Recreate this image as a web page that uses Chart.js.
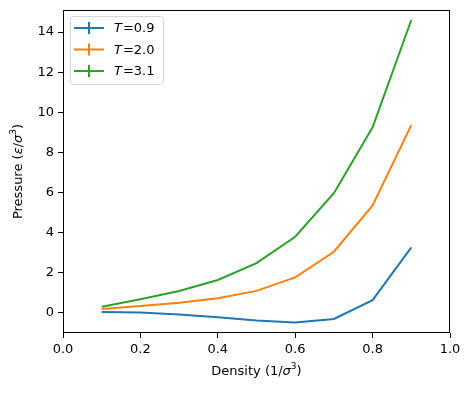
<!DOCTYPE html>
<html>
<head>
<meta charset="utf-8">
<script src="https://cdn.jsdelivr.net/npm/chart.js@4/dist/chart.umd.min.js"></script>
<style>
  html, body { margin: 0; padding: 0; background: #fff; }
  #wrap { width: 471px; height: 394px; }
</style>
</head>
<body>
<div id="wrap"><canvas id="myChart" width="471" height="394"></canvas></div>
<script>
var densities = [0.1, 0.2, 0.3, 0.4, 0.5, 0.6, 0.7, 0.8, 0.9];
var pressureT09 = [0.05, 0.02, -0.08, -0.21, -0.38, -0.48, -0.30, 0.64, 3.27];
var pressureT20 = [0.20, 0.35, 0.51, 0.73, 1.10, 1.77, 3.05, 5.36, 9.36];
var pressureT31 = [0.31, 0.68, 1.09, 1.64, 2.48, 3.80, 5.97, 9.25, 14.6];
var seriesNames = ["0.9", "2.0", "3.1"];
var xTicks = [0, 0.2, 0.4, 0.6, 0.8, 1.0];
var yTicks = [0, 2, 4, 6, 8, 10, 12, 14];

var colors = ["#1f77b4", "#ff7f0e", "#2ca02c"];
var FONT = "'DejaVu Sans', sans-serif";

function toPoints(ys) {
    return densities.map(function (x, i) { return { x: x, y: ys[i] }; });
}

// draws text made of pieces with different styles
function drawParts(ctx, parts, x, y) {
    var total = 0;
    parts.forEach(function (p) {
        ctx.font = p.font;
        total += ctx.measureText(p.text).width;
    });
    var cx = x - total / 2;
    parts.forEach(function (p) {
        ctx.font = p.font;
        ctx.fillText(p.text, cx, y + (p.dy || 0));
        cx += ctx.measureText(p.text).width;
    });
}

function noPad(scale) {
    scale.paddingTop = 0;
    scale.paddingBottom = 0;
    scale.paddingLeft = 0;
    scale.paddingRight = 0;
}

var extrasPlugin = {
    id: "extras",
    afterDraw: function (chart) {
        var ctx = chart.ctx;
        var a = chart.chartArea;
        ctx.save();
        // frame
        ctx.strokeStyle = "#000";
        ctx.lineWidth = 1;
        ctx.strokeRect(Math.round(a.left) + 0.5, Math.round(a.top) + 0.5,
            Math.round(a.right - a.left) - 1, Math.round(a.bottom - a.top) - 1);

        // axis titles
        ctx.fillStyle = "#000";
        ctx.textBaseline = "middle";
        ctx.textAlign = "left";
        var norm = "13px " + FONT, ital = "italic 13px " + FONT, sup = "9px " + FONT;
        drawParts(ctx, [
            { text: "Density (1/", font: norm },
            { text: "σ", font: ital },
            { text: "3", font: sup, dy: -5 },
            { text: ")", font: norm }
        ], (a.left + a.right) / 2, 372);

        ctx.save();
        ctx.translate(19, (a.top + a.bottom) / 2);
        ctx.rotate(-Math.PI / 2);
        drawParts(ctx, [
            { text: "Pressure (", font: norm },
            { text: "ε", font: ital },
            { text: "/", font: norm },
            { text: "σ", font: ital },
            { text: "3", font: sup, dy: -5 },
            { text: ")", font: norm }
        ], 0, 0);
        ctx.restore();

        // legend
        var bx = 70.5, by = 16.5, bw = 93, bh = 68, r = 3;
        ctx.beginPath();
        ctx.moveTo(bx + r, by);
        ctx.arcTo(bx + bw, by, bx + bw, by + bh, r);
        ctx.arcTo(bx + bw, by + bh, bx, by + bh, r);
        ctx.arcTo(bx, by + bh, bx, by, r);
        ctx.arcTo(bx, by, bx + bw, by, r);
        ctx.closePath();
        ctx.fillStyle = "rgba(255,255,255,0.8)";
        ctx.fill();
        ctx.strokeStyle = "#d6d6d6";
        ctx.stroke();

        seriesNames.forEach(function (name, i) {
            var ly = 28 + i * 21.5;
            ctx.strokeStyle = colors[i];
            ctx.lineWidth = 2;
            ctx.beginPath();
            ctx.moveTo(74, ly);
            ctx.lineTo(104, ly);
            ctx.moveTo(89, ly - 6);
            ctx.lineTo(89, ly + 6);
            ctx.stroke();
            ctx.fillStyle = "#000";
            ctx.textAlign = "left";
            ctx.font = ital;
            ctx.fillText("T", 114, ly + 1);
            var w = ctx.measureText("T").width;
            ctx.font = norm;
            ctx.fillText("=" + name, 114 + w + 1, ly + 1);
        });
        ctx.restore();
    }
};

function makeDataset(label, ys, color) {
    return {
        label: label,
        data: toPoints(ys),
        borderColor: color,
        backgroundColor: color,
        borderWidth: 2,
        pointRadius: 0,
        tension: 0,
        fill: false
    };
}

window.onload = function () {
    var ctx = document.getElementById("myChart").getContext("2d");
    new Chart(ctx, {
        type: "line",
        data: {
            datasets: [
                makeDataset("T=0.9", pressureT09, colors[0]),
                makeDataset("T=2.0", pressureT20, colors[1]),
                makeDataset("T=3.1", pressureT31, colors[2])
            ]
        },
        options: {
            responsive: false,
            animation: false,
            layout: { padding: { top: 10, right: 21, left: 0, bottom: 0 } },
            plugins: {
                legend: { display: false },
                tooltip: { enabled: false }
            },
            scales: {
                x: {
                    type: "linear",
                    min: 0,
                    max: 1,
                    afterBuildTicks: function (scale) {
                        scale.ticks = xTicks.map(function (v) { return { value: v }; });
                    },
                    afterFit: function (scale) { scale.height = 61; noPad(scale); },
                    grid: { drawOnChartArea: false, drawTicks: true, tickLength: 5, color: "#000" },
                    border: { display: false },
                    ticks: {
                        color: "#000",
                        padding: 4,
                        font: { family: FONT, size: 13 },
                        maxRotation: 0,
                        callback: function (v) { return v.toFixed(1); }
                    }
                },
                y: {
                    type: "linear",
                    min: -1,
                    max: 15.1,
                    afterBuildTicks: function (scale) {
                        scale.ticks = yTicks.map(function (v) { return { value: v }; });
                    },
                    afterFit: function (scale) { scale.width = 63; noPad(scale); },
                    grid: { drawOnChartArea: false, drawTicks: true, tickLength: 5, color: "#000" },
                    border: { display: false },
                    ticks: {
                        color: "#000",
                        padding: 4,
                        font: { family: FONT, size: 13 }
                    }
                }
            }
        },
        plugins: [extrasPlugin]
    });
};
</script>
</body>
</html>
